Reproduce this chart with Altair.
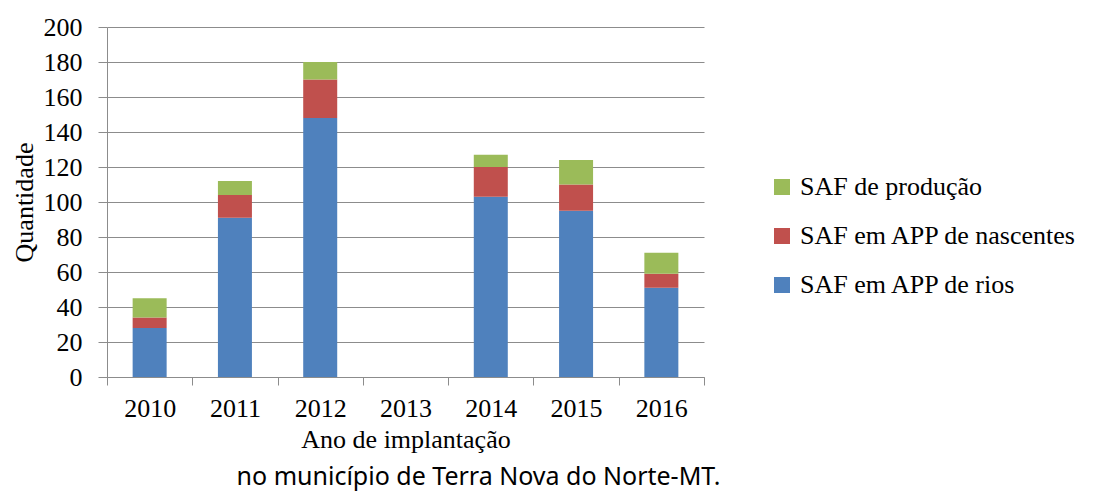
import altair as alt
import pandas as pd

anos = ["2010", "2011", "2012", "2013", "2014", "2015", "2016"]
series = ["SAF de produção", "SAF em APP de nascentes", "SAF em APP de rios"]
rios = [28, 91, 148, 0, 103, 95, 51]
nascentes = [6, 13, 22, 0, 17, 15, 8]
producao = [11, 8, 10, 0, 7, 14, 12]
colors = ["#9BBB59", "#C0504D", "#4F81BD"]

rows = []
for i, a in enumerate(anos):
    rows.append({"ano": a, "tipo": series[2], "valor": rios[i], "ordem": 0})
    rows.append({"ano": a, "tipo": series[1], "valor": nascentes[i], "ordem": 1})
    rows.append({"ano": a, "tipo": series[0], "valor": producao[i], "ordem": 2})
df = pd.DataFrame(rows)

serif = "Liberation Serif"

chart = alt.Chart(df).mark_bar(size=34).encode(
    x=alt.X("ano:N", sort=anos, title="Ano de implantação",
            scale=alt.Scale(paddingInner=0, paddingOuter=0),
            axis=alt.Axis(labelAngle=0, tickBand="extent", tickSize=8,
                          labelPadding=10, titlePadding=5,
                          labelFont=serif, labelFontSize=26, labelColor="#000",
                          titleFont=serif, titleFontSize=26, titleFontWeight="normal",
                          titleColor="#000", domainColor="#8c8c8c", tickColor="#8c8c8c",
                          grid=False)),
    y=alt.Y("valor:Q", stack="zero", title="Quantidade",
            scale=alt.Scale(domain=[0, 200], nice=False),
            axis=alt.Axis(values=list(range(0, 201, 20)), tickSize=9, labelPadding=16,
                          titlePadding=6,
                          labelFont=serif, labelFontSize=26, labelColor="#000",
                          titleFont=serif, titleFontSize=26, titleFontWeight="normal",
                          titleColor="#000", domainColor="#8c8c8c", tickColor="#8c8c8c",
                          gridColor="#8c8c8c", gridWidth=1.2)),
    color=alt.Color("tipo:N", sort=series,
                    scale=alt.Scale(domain=series, range=colors),
                    legend=alt.Legend(title=None, orient="none", legendX=662, legendY=147,
                                      symbolType="square", symbolSize=256,
                                      symbolStrokeWidth=0, labelFont=serif,
                                      labelFontSize=26, labelColor="#000", labelLimit=0,
                                      labelOffset=5, rowPadding=23, padding=0)),
    order=alt.Order("ordem:Q", sort="ascending"),
).properties(
    width=597, height=350,
    autosize=alt.AutoSizeParams(type="none"),
    padding={"left": 99, "top": 19, "right": 387, "bottom": 116},
    title=alt.TitleParams("no município de Terra Nova do Norte-MT.", orient="bottom",
                          anchor="middle", dx=73, offset=13, font="Noto Sans",
                          fontSize=25, fontWeight="normal", color="#000"),
).configure_view(stroke=None)

chart.save("out.html", embed_options={"renderer": "svg", "actions": False})
